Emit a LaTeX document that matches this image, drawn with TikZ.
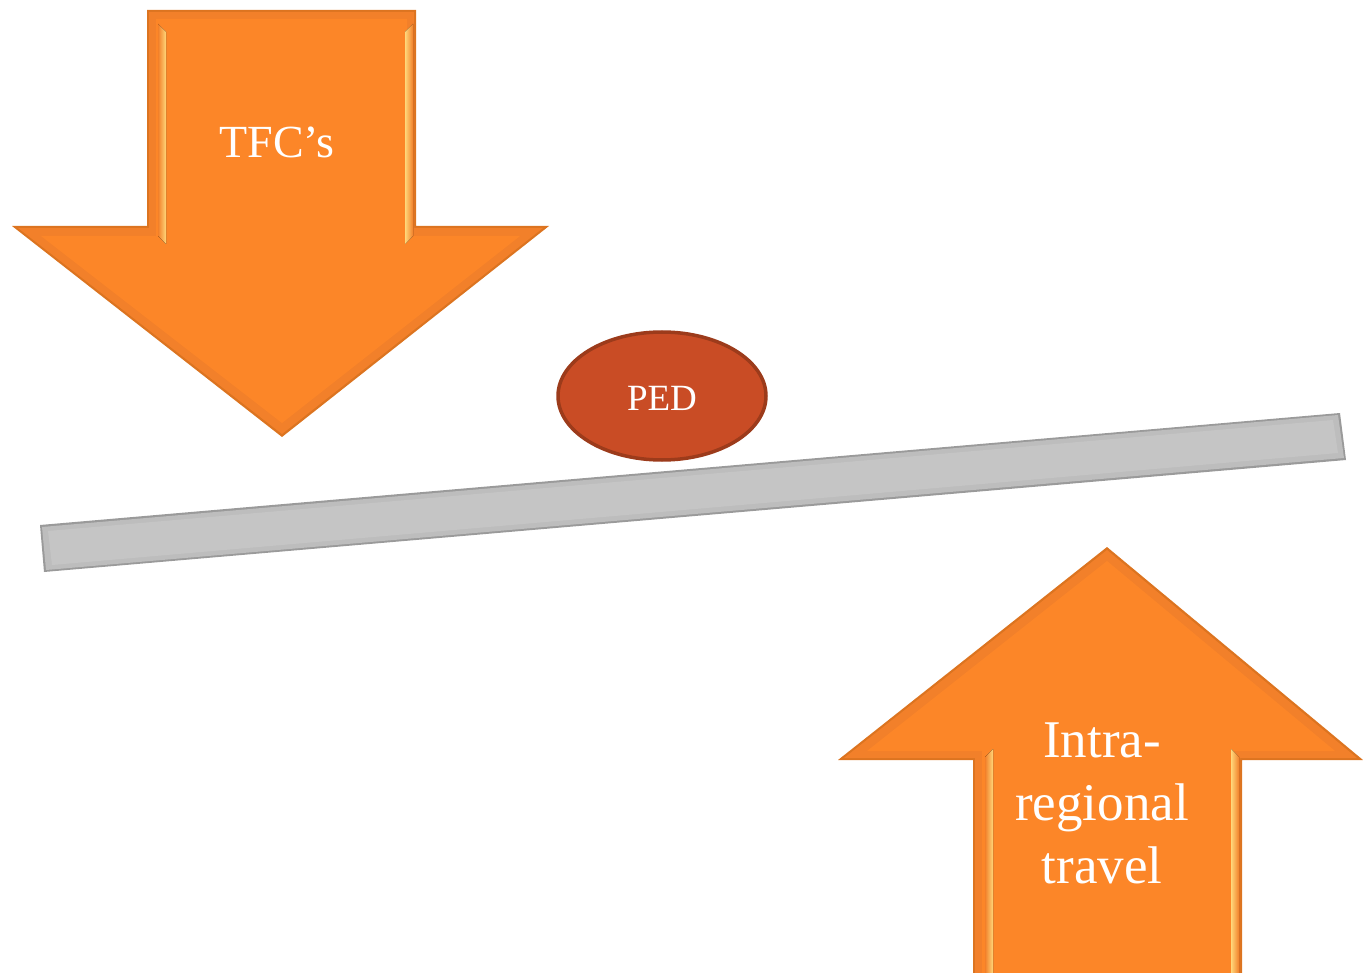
\documentclass[tikz,border=0pt]{standalone}
\usepackage{fontspec}
\setmainfont{Liberation Serif}
\usetikzlibrary{shapes.geometric}
\definecolor{arroworange}{HTML}{FC8628}
\definecolor{arrowbevel}{HTML}{F2802A}
\definecolor{arrowedge}{HTML}{DC7420}
\definecolor{bevellight}{HTML}{FFD77A}
\definecolor{pedfill}{HTML}{C94C25}
\definecolor{pededge}{HTML}{9C3B1B}
\definecolor{barfill}{HTML}{C5C5C5}
\definecolor{barbevel}{HTML}{BDBDBD}
\definecolor{baredge}{HTML}{9A9A9A}
\tikzset{
  label text/.style={text=white, anchor=base, inner sep=0pt},
  strip left/.style={shading=axis, left color=arrowbevel, right color=bevellight},
  strip right/.style={shading=axis, left color=bevellight, right color=arrowbevel},
}
\begin{document}
\begin{tikzpicture}[x=1pt,y=-1pt]
\useasboundingbox (0,0) rectangle (1363,973);

% downward arrow (TFC's): thin outline, bevel band, face
\fill[arrowedge] (147,10) -- (416,10) -- (416,226) -- (549,226) -- (282,437)
  -- (12,226) -- (147,226) -- cycle;
\fill[arrowbevel] (149,12) -- (414,12) -- (414,228) -- (543,228) -- (282,434)
  -- (18,228) -- (149,228) -- cycle;
\fill[arroworange] (156,19) -- (407,19) -- (407,236) -- (520,236) -- (282,423)
  -- (41,236) -- (156,236) -- cycle;
\fill[strip left] (158,24) -- (166,32) -- (166,244) -- (158,236) -- cycle;
\fill[strip right] (405,32) -- (413,24) -- (413,236) -- (405,244) -- cycle;

% upward arrow (intra-regional travel)
\fill[arrowedge] (1107,547) -- (1363,760) -- (1242,760) -- (1242,980)
  -- (973,980) -- (973,760) -- (838,760) -- cycle;
\fill[arrowbevel] (1107,550) -- (1357,758) -- (1240,758) -- (1240,980)
  -- (975,980) -- (975,758) -- (844,758) -- cycle;
\fill[arroworange] (1107,561) -- (1335,751) -- (1233,751) -- (1233,980)
  -- (982,980) -- (982,751) -- (867,751) -- cycle;
\fill[strip left] (985,757) -- (993,749) -- (993,980) -- (985,980) -- cycle;
\fill[strip right] (1231,749) -- (1239,757) -- (1239,980) -- (1231,980) -- cycle;

% tilted beam
\fill[baredge] (40,525) -- (1340,413) -- (1346,460) -- (44,572) -- cycle;
\fill[barbevel] (42,527) -- (1338,415) -- (1344,458) -- (46,570) -- cycle;
\fill[barfill] (48,531) -- (1333,420) -- (1338,453) -- (52,565) -- cycle;

% pivot ball
\node[ellipse, fill=pedfill, draw=pededge, line width=3.5pt,
  minimum width=208pt, minimum height=128pt, inner sep=0pt] (ped) at (662,396) {};

% labels
\node[label text, font=\fontsize{46}{55}\selectfont] (tfc) at (277,158) {TFC’s};
\node[label text, font=\fontsize{37}{44}\selectfont] (pedtext) at (662,411) {PED};
\node[label text, font=\fontsize{53}{63}\selectfont] (intraA) at (1102,757) {Intra-};
\node[label text, font=\fontsize{53}{63}\selectfont] (intraB) at (1102,820) {regional};
\node[label text, font=\fontsize{53}{63}\selectfont] (intraC) at (1102,883) {travel};
\end{tikzpicture}
\end{document}
